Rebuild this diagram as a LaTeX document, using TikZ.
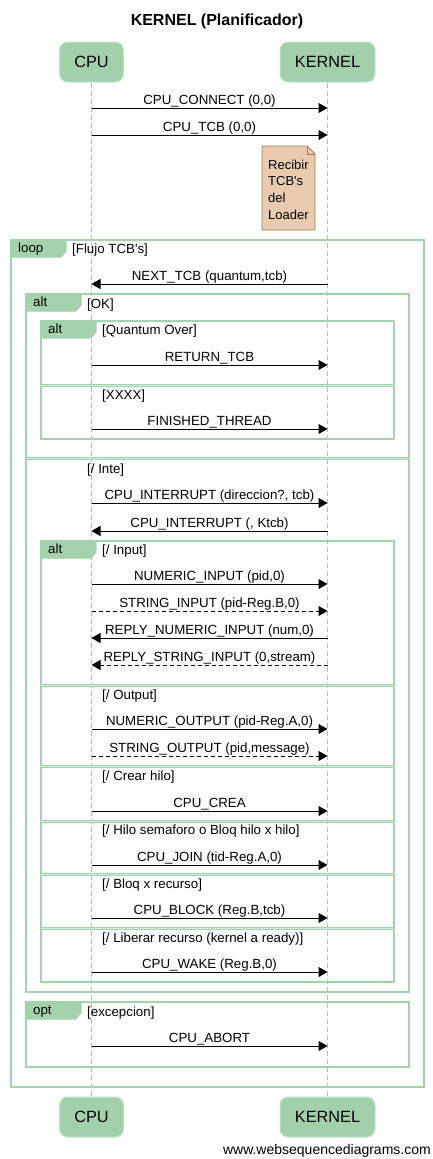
\documentclass[tikz,border=0pt]{standalone}
\usepackage{fontspec}
\setmainfont{Liberation Sans}
\usetikzlibrary{arrows.meta}
\definecolor{framegreen}{RGB}{163,210,172}
\definecolor{actorfill}{RGB}{162,208,170}
\definecolor{actorline}{RGB}{196,228,201}
\definecolor{notefill}{RGB}{234,203,176}
\definecolor{noteline}{RGB}{160,122,86}

\tikzset{
  actor/.style={draw=actorline, fill=actorfill, rounded corners=8pt, line width=1pt,
    minimum height=40pt, font=\fontsize{16.3}{19}\selectfont},
  lifeline/.style={draw=gray!55, line width=0.8pt, dash pattern=on 5pt off 3pt},
  msg/.style={line width=1pt, -{Triangle[length=9pt,width=10pt]}},
  dmsg/.style={msg, dash pattern=on 4pt off 3pt},
  msglabel/.style={above, inner sep=0.5pt, text height=10pt, text depth=3pt,
    font=\fontsize{13.3}{15}\selectfont},
  frame/.style={draw=framegreen, line width=2pt},
  fragtag/.style={fill=framegreen, draw=framegreen, line width=1pt},
  fraglabel/.style={anchor=west, inner sep=0pt, text height=9.5pt, text depth=2.7pt,
    font=\fontsize{13.3}{15}\selectfont},
  sepline/.style={draw=framegreen, line width=1.1pt, double=framegreen!45!white,
    double distance=0.8pt},
}

\begin{document}
\begin{tikzpicture}[x=1pt, y=-1pt]
  \useasboundingbox (0,0) rectangle (433,1159);

  % title
  \node[font=\fontsize{16}{19}\selectfont\bfseries] (title) at (217,21) {KERNEL (Planificador)};

  % participants
  \node[actor, minimum width=64pt] (cpuT) at (91.5,62) {CPU};
  \node[actor, minimum width=95pt] (kerT) at (327.5,62) {KERNEL};
  \node[actor, minimum width=64pt] (cpuB) at (91.5,1117) {CPU};
  \node[actor, minimum width=95pt] (kerB) at (327.5,1117) {KERNEL};

  \draw[lifeline] (cpuT) -- (cpuB);
  \draw[lifeline] (kerT) -- (kerB);

  % note
  \draw[fill=notefill, draw=noteline, line width=0.8pt]
    (262,146) -- (307,146) -- (315,154) -- (315,230) -- (262,230) -- cycle;
  \draw[draw=noteline, line width=0.8pt] (307,146) -- (307,154) -- (315,154);
  \node[anchor=north west, inner sep=0pt, align=left, font=\fontsize{13}{16.8}\selectfont]
    (loaderNote) at (268,159.5) {Recibir\\TCB\textquotesingle s\\del\\Loader};

  % frames
  \draw[frame] (11,240) rectangle (424,1087);
  \draw[frame] (26,294) rectangle (409,992);
  \draw[frame] (41,321) rectangle (394,439);
  \draw[frame] (41,541) rectangle (394,982);
  \draw[frame] (26,1002) rectangle (409,1067);

  % separators of the alt frames
  \draw[sepline] (41,385) -- (394,385);
  \draw[sepline] (26,458) -- (409,458);
  \foreach \y in {685,766,821,874,928}
    \draw[sepline] (41,\y) -- (394,\y);

  % fragment tags
  \foreach \x/\y/\w/\kind [count=\n] in {11/240/55/loop, 26/294/55/alt, 41/321/55/alt,
      41/541/55/alt, 26/1002/55/opt} {
    \draw[fragtag] (\x,\y) -- ++(\w,0) -- ++(0,11) -- ++(-5,6) -- (\x,\y+17) -- cycle;
    \node[fraglabel] (tag\n) at (\x+7,\y+9.5) {\kind};
  }

  % guards
  \foreach \x/\y/\guard [count=\n] in {72/250/{[Flujo TCB\textquotesingle s]}, 87/305/{[OK]},
      102/331/{[Quantum Over]}, 102/396/{[XXXX]}, 87/470/{[/ Inte]},
      102/551/{[/ Input]}, 102/696/{[/ Output]}, 102/777/{[/ Crear hilo]},
      102/831/{[/ Hilo semaforo o Bloq hilo x hilo]}, 102/885/{[/ Bloq x recurso]},
      102/939/{[/ Liberar recurso (kernel a ready)]}, 87/1013/{[excepcion]}}
    \node[fraglabel] (guard\n) at (\x,\y) {\guard};

  % messages
  \foreach \y/\txt/\src/\dst/\sty [count=\n] in {
      108/{CPU\_CONNECT (0,0)}/c/k/msg,
      135/{CPU\_TCB (0,0)}/c/k/msg,
      284/{NEXT\_TCB (quantum,tcb)}/k/c/msg,
      365/{RETURN\_TCB}/c/k/msg,
      429/{FINISHED\_THREAD}/c/k/msg,
      503/{CPU\_INTERRUPT (direccion?, tcb)}/c/k/msg,
      531/{CPU\_INTERRUPT (, Ktcb)}/k/c/msg,
      584/{NUMERIC\_INPUT (pid,0)}/c/k/msg,
      611/{STRING\_INPUT (pid-Reg.B,0)}/c/k/dmsg,
      638/{REPLY\_NUMERIC\_INPUT (num,0)}/k/c/msg,
      665/{REPLY\_STRING\_INPUT (0,stream)}/k/c/dmsg,
      729/{NUMERIC\_OUTPUT (pid-Reg.A,0)}/c/k/msg,
      756/{STRING\_OUTPUT (pid,message)}/c/k/dmsg,
      811/{CPU\_CREA}/c/k/msg,
      865/{CPU\_JOIN (tid-Reg.A,0)}/c/k/msg,
      918/{CPU\_BLOCK (Reg.B,tcb)}/c/k/msg,
      972/{CPU\_WAKE (Reg.B,0)}/c/k/msg,
      1046/{CPU\_ABORT}/c/k/msg} {
    \coordinate (c\n) at (91.5,\y);
    \coordinate (k\n) at (327.5,\y);
    \draw[\sty] (\src\n) -- node[msglabel] (m\n) {\txt} (\dst\n);
  }

  % footer
  \node[anchor=east, inner sep=0pt, font=\fontsize{14}{16}\selectfont] (footer)
    at (431,1151) {www.websequencediagrams.com};
\end{tikzpicture}
\end{document}
